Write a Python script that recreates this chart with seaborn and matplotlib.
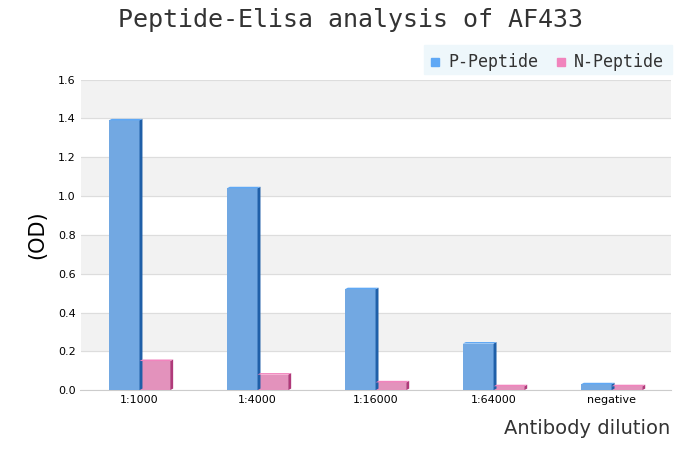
import matplotlib
matplotlib.use("Agg")
import matplotlib.pyplot as plt
import seaborn as sns
import pandas as pd
from matplotlib.patches import Polygon, Rectangle
from matplotlib.colors import to_rgb

categories = ["1:1000", "1:4000", "1:16000", "1:64000", "negative"]
p_values = [1.39, 1.04, 0.52, 0.24, 0.03]
n_values = [0.15, 0.08, 0.04, 0.02, 0.02]
series = ["P-Peptide", "N-Peptide"]
colors = ["#5fa8f5", "#f184bd"]
dark = ["#1f5fa8", "#b03a7a"]

df = pd.DataFrame({
    "cat": categories * 2,
    "val": p_values + n_values,
    "s": [series[0]] * 5 + [series[1]] * 5,
})

fig = plt.figure(figsize=(7, 4.5), dpi=100)
ax = fig.add_axes([0.115, 0.133, 0.843, 0.69])
sns.barplot(data=df, x="cat", y="val", hue="s", palette=colors, width=0.52,
            ax=ax, legend=False, linewidth=0, zorder=3)
ax.set_xlim(-0.5, 4.5)
ax.set_ylim(0, 1.6)
for i, lo in enumerate([0.2, 0.6, 1.0, 1.4]):
    ax.axhspan(lo, lo + 0.2, color="#f2f2f2", zorder=0)
ax.set_yticks([0, 0.2, 0.4, 0.6, 0.8, 1.0, 1.2, 1.4, 1.6])
ax.set_yticklabels([f"{v:.1f}" for v in ax.get_yticks()], fontsize=8)
ax.grid(axis="y", color="#dddddd", lw=0.8, zorder=1)
ax.tick_params(axis="x", labelsize=8, length=0)
ax.tick_params(axis="y", length=0)
for s in ["top", "right", "left"]:
    ax.spines[s].set_visible(False)
ax.spines["bottom"].set_color("#cccccc")

# 3D side/top faces
dx, dy = 0.025, 0.008
for k, cont in enumerate(ax.containers):
    for bar in cont:
        x0, w, h = bar.get_x(), bar.get_width(), bar.get_height()
        x1 = x0 + w
        ax.add_patch(Polygon([(x1, 0), (x1 + dx, dy), (x1 + dx, h + dy), (x1, h)],
                             closed=True, color=dark[k], lw=0, zorder=3))
        ax.add_patch(Polygon([(x0, h), (x0 + dx, h + dy), (x1 + dx, h + dy), (x1, h)],
                             closed=True, color=colors[k], lw=0, zorder=3))

ax.set_xlabel("")
ax.set_ylabel("(OD)", fontsize=15, labelpad=8)
fig.text(0.957, 0.035, "Antibody dilution", ha="right", fontsize=14, color="#333333")
fig.text(0.5, 0.94, "Peptide-Elisa analysis of AF433", ha="center", fontsize=18,
         family="DejaVu Sans Mono", color="#333333")

# legend
fig.patches.append(Rectangle((0.605, 0.835), 0.355, 0.065, transform=fig.transFigure,
                             color="#eef7fb", zorder=0))
for i, (lab, c) in enumerate(zip(series, colors)):
    xx = 0.615 + i * 0.18
    fig.patches.append(Rectangle((xx, 0.853), 0.012, 0.018, transform=fig.transFigure,
                                 color=c))
    fig.text(xx + 0.025, 0.851, lab, fontsize=12, family="DejaVu Sans Mono", color="#333333")

fig.savefig("out.png", dpi=100)
